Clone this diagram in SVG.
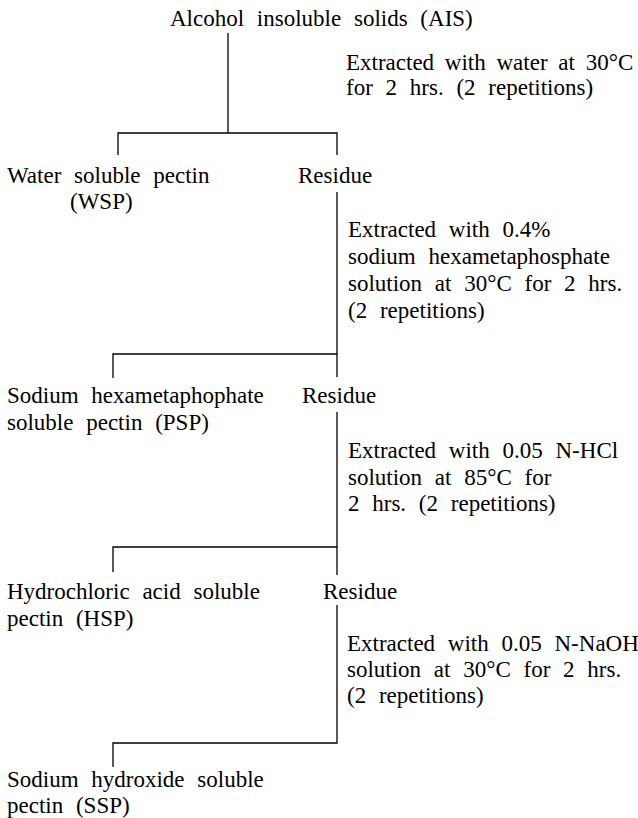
<svg xmlns="http://www.w3.org/2000/svg" width="638" height="818" viewBox="0 0 638 818">
  <style>
    text { font-family: "Liberation Serif", "Times New Roman", serif; font-size: 23px; fill: #000; word-spacing: 7px; }
    .ln { stroke: #000; stroke-width: 1.3; fill: none; }
  </style>
  <rect x="0" y="0" width="638" height="818" fill="#fff"/>

  <g id="connectors">
    <path class="ln" d="M228,33 V133"/>
    <path class="ln" d="M118,155 V133 H337 V155"/>
    <path class="ln" d="M337,192 V377"/>
    <path class="ln" d="M113,378 V354 H337"/>
    <path class="ln" d="M337,412 V575"/>
    <path class="ln" d="M113,572 V547 H337"/>
    <path class="ln" d="M337,605 V743 H113 V767"/>
  </g>

  <g id="ais">
    <text x="170" y="26">Alcohol insoluble solids (AIS)</text>
  </g>
  <g id="step1">
    <text x="346" y="70" style="word-spacing:5px">Extracted with water at 30°C</text>
    <text x="346" y="95">for 2 hrs. (2 repetitions)</text>
  </g>
  <g id="wsp">
    <text x="7" y="183">Water soluble pectin</text>
    <text x="70" y="209">(WSP)</text>
  </g>
  <g id="residue1">
    <text x="298" y="183">Residue</text>
  </g>
  <g id="step2">
    <text x="348" y="237">Extracted with 0.4%</text>
    <text x="348" y="264">sodium hexametaphosphate</text>
    <text x="348" y="291">solution at 30°C for 2 hrs.</text>
    <text x="348" y="318">(2 repetitions)</text>
  </g>
  <g id="psp">
    <text x="7" y="403">Sodium hexametaphophate</text>
    <text x="7" y="430">soluble pectin (PSP)</text>
  </g>
  <g id="residue2">
    <text x="302" y="403">Residue</text>
  </g>
  <g id="step3">
    <text x="348" y="458">Extracted with 0.05 N-HCl</text>
    <text x="348" y="485">solution at 85°C for</text>
    <text x="348" y="511">2 hrs. (2 repetitions)</text>
  </g>
  <g id="hsp">
    <text x="7" y="599">Hydrochloric acid soluble</text>
    <text x="7" y="626">pectin (HSP)</text>
  </g>
  <g id="residue3">
    <text x="323" y="599">Residue</text>
  </g>
  <g id="step4">
    <text x="347" y="651">Extracted with 0.05 N-NaOH</text>
    <text x="347" y="677">solution at 30°C for 2 hrs.</text>
    <text x="347" y="703">(2 repetitions)</text>
  </g>
  <g id="ssp">
    <text x="7" y="787">Sodium hydroxide soluble</text>
    <text x="7" y="813">pectin (SSP)</text>
  </g>
</svg>
